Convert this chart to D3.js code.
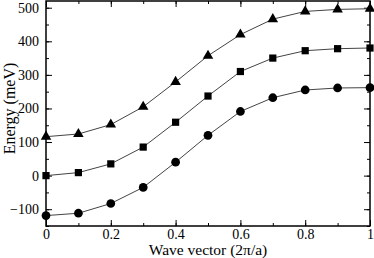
<!DOCTYPE html>
<html>
<head>
<meta charset="utf-8">
<script src="https://cdn.jsdelivr.net/npm/d3@7"></script>
<style>
body { margin: 0; background: #fff; }
</style>
</head>
<body>
<script>
// data
var waveVector = [0, 0.1, 0.2, 0.3, 0.4, 0.5, 0.6, 0.7, 0.8, 0.9, 1.0];
var upperBand = [116, 124, 152, 205, 279, 357, 420, 466, 489, 495, 497];
var middleBand = [0, 9, 35, 85, 159, 237, 310, 350, 372, 378, 380];
var lowerBand = [-119, -112, -83, -35, 40, 120, 191, 232, 255, 261, 262];
var xTicks = [0, 0.2, 0.4, 0.6, 0.8, 1];
var yTicks = [-100, 0, 100, 200, 300, 400, 500];

var serif = "'Liberation Serif', 'Times New Roman', Times, serif";

var margin = {top: 1, right: 4, bottom: 32, left: 46},
    width = 374, height = 258,
    w = width - margin.left - margin.right,
    h = height - margin.top - margin.bottom;

var x = d3.scaleLinear().domain([0, 1]).range([0, w]);
var y = d3.scaleLinear().domain([-150, 520]).range([h, 0]);

var svg = d3.select("body").append("svg")
  .attr("width", width)
  .attr("height", height)
  .append("g")
  .attr("transform", "translate(" + margin.left + "," + margin.top + ")");

// ticks on all sides, pointing inward
var xMinor = d3.range(0, 1.0001, 0.1);
var yMinor = d3.range(-150, 520, 50);

function tickGroup(axis, t) {
  var g = svg.append("g").attr("transform", t).call(axis);
  g.select(".domain").remove();
  g.attr("font-family", serif);
  g.selectAll("line").attr("stroke", "#000").attr("stroke-width", 1);
  g.selectAll("text").attr("fill", "#000").style("font-family", serif).style("font-size", "14px");
  return g;
}

tickGroup(d3.axisBottom(x).tickValues(xMinor).tickSize(-3).tickFormat(""), "translate(0," + h + ")");
tickGroup(d3.axisTop(x).tickValues(xMinor).tickSize(-3).tickFormat(""), "translate(0,0)");
tickGroup(d3.axisLeft(y).tickValues(yMinor).tickSize(-3).tickFormat(""), "translate(0,0)");
tickGroup(d3.axisRight(y).tickValues(yMinor).tickSize(-3).tickFormat(""), "translate(" + w + ",0)");

tickGroup(d3.axisBottom(x).tickValues(xTicks).tickSize(-6).tickPadding(3)
  .tickFormat(function(d) { return d === 0 || d === 1 ? d : d3.format(".1f")(d); }), "translate(0," + h + ")");
tickGroup(d3.axisTop(x).tickValues(xTicks).tickSize(-6).tickFormat(""), "translate(0,0)");
tickGroup(d3.axisLeft(y).tickValues(yTicks).tickSize(-6).tickPadding(7), "translate(0,0)");
tickGroup(d3.axisRight(y).tickValues(yTicks).tickSize(-6).tickFormat(""), "translate(" + w + ",0)");

// frame
svg.append("rect")
  .attr("x", 0).attr("y", 0)
  .attr("width", w).attr("height", h)
  .attr("fill", "none")
  .attr("stroke", "#000")
  .attr("stroke-width", 1.5);

// curves
var line = d3.line()
  .x(function(d) { return x(d[0]); })
  .y(function(d) { return y(d[1]); });

var series = [
  {values: upperBand, symbol: d3.symbolTriangle, size: 48},
  {values: middleBand, symbol: d3.symbolSquare, size: 52},
  {values: lowerBand, symbol: d3.symbolCircle, size: 60}
];

series.forEach(function(s) {
  var pts = waveVector.map(function(k, i) { return [k, s.values[i]]; });
  svg.append("path")
    .datum(pts)
    .attr("fill", "none")
    .attr("stroke", "#444")
    .attr("stroke-width", 1)
    .attr("d", line);
  svg.selectAll(null)
    .data(pts)
    .enter().append("path")
    .attr("d", d3.symbol().type(s.symbol).size(s.size))
    .attr("transform", function(d) { return "translate(" + x(d[0]) + "," + y(d[1]) + ")"; })
    .attr("fill", "#000");
});

// labels
svg.append("text")
  .attr("x", w / 2)
  .attr("y", h + 29)
  .attr("text-anchor", "middle")
  .style("font-family", serif)
  .style("font-size", "15.5px")
  .text("Wave vector (2\u03c0/a)");

svg.append("text")
  .attr("transform", "translate(" + (-31) + "," + (h / 2 - 5) + ") rotate(-90)")
  .attr("text-anchor", "middle")
  .style("font-family", serif)
  .style("font-size", "16px")
  .text("Energy (meV)");
</script>
</body>
</html>
